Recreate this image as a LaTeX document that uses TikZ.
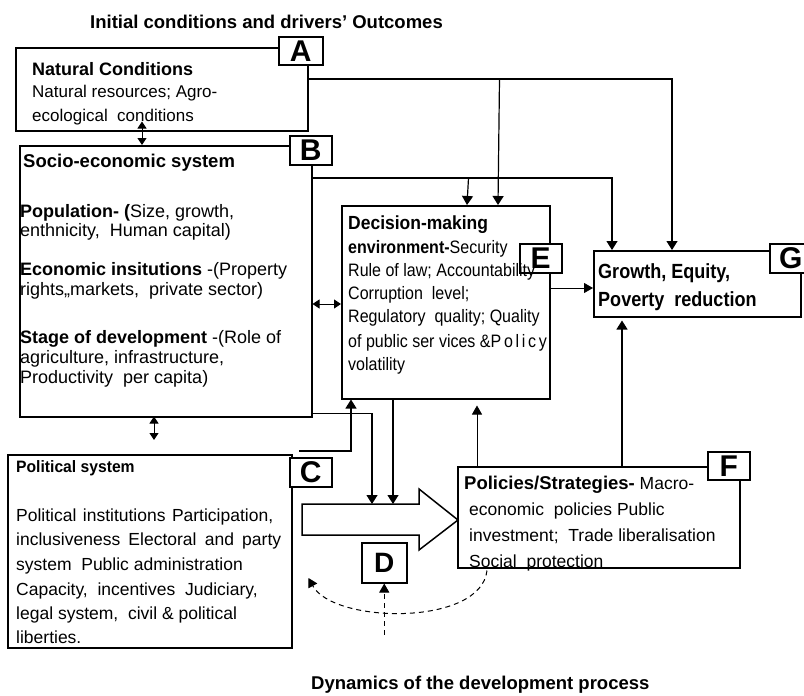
\documentclass[tikz,border=0pt]{standalone}
\usepackage{fontspec}
\setmainfont{Liberation Sans}
\newfontfamily\narrowE[FakeStretch=0.89]{Liberation Sans}
\newfontfamily\narrowD[FakeStretch=0.92]{Liberation Sans}
\newfontfamily\narrowG[FakeStretch=0.88]{Liberation Sans}
\newfontfamily\narrowC[FakeStretch=0.95]{Liberation Sans}
\usetikzlibrary{arrows.meta,calc}
\newcommand\fsz[1]{\fontsize{#1}{#1}\selectfont}
\begin{document}
\begin{tikzpicture}[x=1pt,y=-1pt,
  box/.style={draw,line width=1.5pt,rectangle,inner sep=0pt,anchor=north west},
  lbl/.style={draw,line width=1.5pt,fill=white,rectangle,inner sep=0pt,anchor=north west,font=\fsz{30}\bfseries},
  tl/.style={anchor=base west,inner sep=0pt},
  conn/.style={line width=1.2pt,-{Triangle[length=9pt,width=11pt]}},
  tconn/.style={line width=0.8pt,-{Triangle[length=9pt,width=10pt]}},
  dbl/.style={line width=0.9pt,{Triangle[length=7pt,width=9pt]}-{Triangle[length=7pt,width=9pt]}},
  dsh/.style={line width=1pt,dash pattern=on 5pt off 4pt,-{Triangle[length=9pt,width=10pt]}}
]
\useasboundingbox (0,0) rectangle (804,696);

% main boxes
\node[box,minimum width=292pt,minimum height=83pt] (A) at (15,47) {};
\node[box,minimum width=292pt,minimum height=271pt] (B) at (19,145) {};
\node[box,minimum width=208pt,minimum height=193pt] (E) at (341,205) {};
\node[box,minimum width=207pt,minimum height=66pt] (G) at (593,250) {};
\node[box,minimum width=284pt,minimum height=193pt] (C) at (7,454) {};
\node[box,minimum width=282pt,minimum height=101pt] (F) at (457,466) {};
\node[box,minimum width=45pt,minimum height=40pt,font=\fsz{28}\bfseries] (D) at (361,542) {D};

% big arrow
\coordinate (H1) at (302,504);
\draw[line width=1.5pt] (H1) -- (419,504) -- (419,489) -- (458,520) -- (419,550) -- (419,535) -- (302,535) -- cycle;

% letter labels
\node[lbl,minimum width=44pt,minimum height=28pt] (LA) at (278,36) {A};
\node[lbl,minimum width=42pt,minimum height=29pt] (LB) at (289,135) {B};
\node[lbl,minimum width=42pt,minimum height=29pt] (LE) at (519,243) {E};
\node[lbl,minimum width=42pt,minimum height=29pt] (LG) at (769,243) {G};
\node[lbl,minimum width=42pt,minimum height=29pt] (LC) at (289,457) {C};
\node[lbl,minimum width=42pt,minimum height=28pt] (LF) at (707,451) {F};

% connectors from A
\coordinate (a0) at ($(A.north east)+(0,32)$);
\draw[conn] (a0) -| ($(G.north west)+(79,0)$);
\draw[conn] ($(a0)+(191,0)$) -- ($(E.north west)+(157,0)$);
% connectors from B
\coordinate (b0) at ($(B.north east)+(0,33)$);
\draw[conn] (b0) -| ($(G.north west)+(19,0)$);
\draw[conn] ($(b0)+(156,0)$) -- ($(E.north west)+(126,0)$);
% E -> G
\draw[tconn] ($(E.north east)+(0,83)$) -- ($(G.north west)+(0,38)$);
% double arrows
\draw[dbl] ($(A.south west)+(127,-10)$) -- ($(B.north west)+(123,0)$);
\draw[dbl] ($(B.south west)+(135,-1)$) -- ($(C.north west)+(147,-14)$);
\draw[dbl] ($(B.north east)+(0,159)$) -- ($(E.north west)+(0,99)$);
% into the big arrow
\draw[conn] ($(B.south east)+(0,-4)$) -| ($(H1)+(70,0)$);
\draw[conn] ($(E.south west)+(52,0)$) -- ($(H1)+(91,0)$);
% C -> E
\draw[conn] ($(LC.north west)+(10,-6)$) -| ($(E.south west)+(10,0)$);
% F -> E, F -> G
\draw[tconn] ($(F.north west)+(20,0)$) -- ($(E.south west)+(136,6)$);
\draw[conn] ($(F.north west)+(165,0)$) -- ($(G.south west)+(29,3)$);
% dashed feedback
\draw[dsh] ($(F.south west)+(30,2)$) .. controls ($(F.south west)+(24,58)$) and ($(C.north east)+(41,170)$) .. ($(C.north east)+(16,124)$);
\draw[dsh] ($(D.south)+(0,51)$) -- (D.south);

% titles
\node[tl,font=\fsz{18.5}\bfseries] (t1) at (90,28) {Initial conditions and drivers' Outcomes};
\node[tl,font=\fsz{18.5}\bfseries] (t2) at (311,689) {Dynamics of the development process};

% A text
\node[tl,font=\fsz{18}\bfseries] (a1) at (32,75) {Natural Conditions};
\node[tl,font=\fsz{17}] (a2) at (32,97) {Natural resources; Agro-};
\node[tl,font=\fsz{17}] (a3) at (32,121) {ecological\ \ conditions};

% B text
\node[tl,font=\fsz{18.5}\bfseries] (b1) at (23,167) {Socio-economic system};
\node[tl,font=\fsz{18}] (b2) at (20,217) {\textbf{Population- (}Size, growth,};
\node[tl,font=\fsz{18}] (b3) at (20,236) {enthnicity,\ \ Human\ capital)};
\node[tl,font=\fsz{18}] (b4) at (20,275) {\textbf{Economic insitutions} -(Property};
\node[tl,font=\fsz{18}] (b5) at (20,295) {rights,,markets,\ \ private sector)};
\node[tl,font=\fsz{18}] (b6) at (20,343) {\textbf{Stage of development} -(Role of};
\node[tl,font=\fsz{18}] (b7) at (20,363) {agriculture,\ infrastructure,};
\node[tl,font=\fsz{18}] (b8) at (20,383) {Productivity\ \ per capita)};

% E text
\node[tl,font=\narrowD\fsz{19}\bfseries] (e1) at (348,229) {Decision-making};
\node[tl,font=\narrowE\fsz{18}] (e2) at (348,253) {\textbf{environment-}Security};
\node[tl,font=\narrowE\fsz{18}] (e3) at (348,276) {Rule of law; Accountability};
\node[tl,font=\narrowE\fsz{18}] (e4) at (348,299) {Corruption\ \ level;};
\node[tl,font=\narrowE\fsz{18}] (e5) at (348,322) {Regulatory\ \ quality;\ Quality};
\node[tl,font=\narrowE\fsz{18}] (e6) at (348,347) {of public ser vices \&{\addfontfeature{LetterSpace=15}Policy}};
\node[tl,font=\narrowE\fsz{18}] (e7) at (348,370) {volatility};

% G text
\node[tl,font=\narrowG\fsz{20.5}\bfseries] (g1) at (598,278) {Growth, Equity,};
\node[tl,font=\narrowG\fsz{20.5}\bfseries] (g2) at (598,306) {Poverty\ \ reduction};

% C text
\node[tl,font=\narrowC\fsz{16.5}\bfseries] (c1) at (16,472) {Political system};
\node[tl,font=\fsz{17.5}] (c2) at (16,521) {\makebox[257pt][s]{Political institutions Participation,}};
\node[tl,font=\fsz{17.5}] (c3) at (16,545) {\makebox[265pt][s]{inclusiveness Electoral and party}};
\node[tl,font=\fsz{17.5}] (c4) at (16,570) {system\ \ Public administration};
\node[tl,font=\fsz{17.5}] (c5) at (16,595) {Capacity,\ \ incentives\ \ Judiciary,};
\node[tl,font=\fsz{17.5}] (c6) at (16,619) {legal system,\ \ civil \& political};
\node[tl,font=\fsz{17.5}] (c7) at (16,643) {liberties.};

% F text
\node[tl,font=\fsz{17.5}] (f1) at (464,489) {{\fsz{18.5}\bfseries Policies/Strategies-} Macro-};
\node[tl,font=\fsz{17.5}] (f2) at (469,515) {economic\ \ policies\ Public};
\node[tl,font=\fsz{17.5}] (f3) at (469,541) {investment;\ \ Trade liberalisation};
\node[tl,font=\fsz{17.5}] (f4) at (469,567) {Social\ \ protection};
\end{tikzpicture}
\end{document}
